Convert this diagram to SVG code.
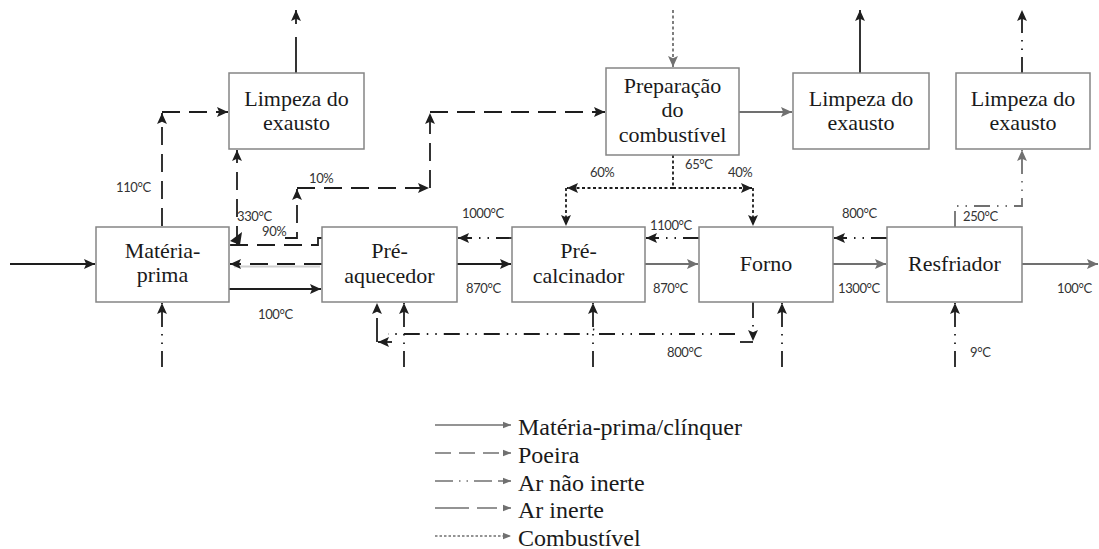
<svg xmlns="http://www.w3.org/2000/svg" width="1099" height="549" viewBox="0 0 1099 549">
<style>
.box{fill:#fff;stroke:#858585;stroke-width:1.5}
.nt{font-family:"Liberation Serif",serif;font-size:22px;fill:#1a1a1a;text-anchor:middle}
.lt{font-family:"Liberation Serif",serif;font-size:24px;fill:#1a1a1a}
.lbl{font-family:Lato,"Liberation Sans",sans-serif;font-size:13px;fill:#333;letter-spacing:-0.4px}
.k{fill:none;stroke:#1e1e1e;stroke-width:1.8}
.g{fill:none;stroke:#707070;stroke-width:1.8}
.lg{fill:none;stroke:#707070;stroke-width:1.6}
.da{stroke-dasharray:18 9}
.dd{stroke-dasharray:16 7 1.5 7 1.5 7}
.dt{stroke-dasharray:3 2.5}
</style>
<defs>
<marker id="ab" viewBox="0 0 10 10" refX="10" refY="5" markerWidth="11" markerHeight="11" markerUnits="userSpaceOnUse" orient="auto"><path d="M0,0.5 L10,5 L0,9.5 L2,5 z" fill="#1e1e1e"/></marker>
<marker id="ag" viewBox="0 0 10 10" refX="10" refY="5" markerWidth="11" markerHeight="11" markerUnits="userSpaceOnUse" orient="auto"><path d="M0,0.5 L10,5 L0,9.5 L2,5 z" fill="#707070"/></marker>
<marker id="al" viewBox="0 0 10 10" refX="10" refY="5" markerWidth="8" markerHeight="8" markerUnits="userSpaceOnUse" orient="auto"><path d="M0,1 L10,5 L0,9 z" fill="#707070"/></marker>
</defs>

<g id="connectors">
<!-- solid black -->
<path class="k" d="M10,264 H95" marker-end="url(#ab)"/>
<path class="k" d="M229,289 H321" marker-end="url(#ab)"/>
<path class="k" d="M457,264 H511" marker-end="url(#ab)"/>
<path class="k" d="M860,73 V10" marker-end="url(#ab)"/>
<path class="k" d="M296,73 V37 M296,24 V10" marker-end="url(#ab)"/>
<!-- solid gray -->
<path class="g" d="M645,264 H698" marker-end="url(#ag)"/>
<path class="g" d="M833,264 H886" marker-end="url(#ag)"/>
<path class="g" d="M1022,264 H1098" marker-end="url(#ag)"/>
<path class="g" d="M739,112 H792" marker-end="url(#ag)"/>
<!-- dashed (poeira) -->
<path d="M320,266.5 H234" fill="none" stroke="#d0d0d0" stroke-width="2"/>
<path class="k da" d="M322,264 H230" marker-end="url(#ab)"/>
<path class="k da" d="M162,226 V113" marker-end="url(#ab)"/>
<path class="k da" d="M162,112 H228" marker-end="url(#ab)"/>
<path class="k da" d="M237,244 V150" marker-end="url(#ab)"/>
<path class="k da" d="M322,238 H318 V245 H231 V239"/>
<polygon points="230,241 242,232 240,245" fill="#1e1e1e"/>
<path class="k da" d="M285,238 H297 V189" marker-end="url(#ab)"/>
<path class="k da" d="M297,188 H429" marker-end="url(#ab)"/>
<path class="k da" d="M430,188 V113" marker-end="url(#ab)"/>
<path class="k da" d="M430,112 H605" marker-end="url(#ab)"/>
<!-- dash-dot (ar nao inerte) -->
<path class="k dd" d="M512,238 H458" marker-end="url(#ab)"/>
<path class="k dd" d="M699,238 H646" marker-end="url(#ab)"/>
<path class="k dd" d="M887,238 H834" marker-end="url(#ab)"/>
<path class="k dd" d="M162,367 V303" marker-end="url(#ab)"/>
<path class="k dd" d="M404,367 V303" marker-end="url(#ab)"/>
<path class="k dd" d="M593,367 V303" marker-end="url(#ab)"/>
<path class="k dd" d="M782,367 V303" marker-end="url(#ab)"/>
<path class="k dd" d="M955,367 V303" marker-end="url(#ab)"/>
<path class="k dd" d="M753,302 V341" marker-end="url(#ab)"/>
<path class="k" d="M740,342 H753"/>
<path class="k dd" d="M735,334 H597.5 A4.5,4.5 0 0 0 588.5,334 H388"/>
<path class="k dd" d="M377,334 V303" marker-end="url(#ab)"/>
<path class="k" d="M377,334 V342"/>
<path class="k" d="M392,342 H378" marker-end="url(#ab)"/>
<path class="g dd" d="M955,227 V206 H1022 V150" marker-end="url(#ag)"/>
<path class="k dd" d="M1022,73 V10" marker-end="url(#ab)"/>
<!-- dotted (combustivel) -->
<path class="g dt" d="M673,10 V67" marker-end="url(#ag)"/>
<path class="k dt" d="M673,155 V188"/>
<path class="k dt" d="M673,188 H567" marker-end="url(#ab)"/>
<path class="k dt" d="M673,188 H752" marker-end="url(#ab)"/>
<path class="k dt" d="M566,188 V226" marker-end="url(#ab)"/>
<path class="k dt" d="M753,188 V226" marker-end="url(#ab)"/>
</g>

<g id="labels">
<text class="lbl" x="116" y="192">110°C</text>
<text class="lbl" x="237" y="221">330°C</text>
<text class="lbl" x="262" y="236">90%</text>
<text class="lbl" x="309" y="183">10%</text>
<text class="lbl" x="462" y="218">1000°C</text>
<text class="lbl" x="466" y="293">870°C</text>
<text class="lbl" x="258" y="319">100°C</text>
<text class="lbl" x="590" y="177">60%</text>
<text class="lbl" x="685" y="169">65°C</text>
<text class="lbl" x="728" y="177">40%</text>
<text class="lbl" x="650" y="230">1100°C</text>
<text class="lbl" x="653" y="293">870°C</text>
<text class="lbl" x="667" y="357">800°C</text>
<text class="lbl" x="842" y="218">800°C</text>
<text class="lbl" x="838" y="293">1300°C</text>
<text class="lbl" x="963" y="221">250°C</text>
<text class="lbl" x="1057" y="293">100°C</text>
<text class="lbl" x="970" y="357">9°C</text>
</g>

<g id="materia-prima"><rect class="box" x="96" y="227" width="133" height="75"/><text class="nt" x="162.5" y="258">Matéria-</text><text class="nt" x="162.5" y="282">prima</text></g>
<g id="pre-aquecedor"><rect class="box" x="322" y="227" width="135" height="75"/><text class="nt" x="389.5" y="258">Pré-</text><text class="nt" x="389.5" y="283">aquecedor</text></g>
<g id="pre-calcinador"><rect class="box" x="512" y="227" width="133" height="75"/><text class="nt" x="578.5" y="258">Pré-</text><text class="nt" x="578.5" y="283">calcinador</text></g>
<g id="forno"><rect class="box" x="699" y="227" width="134" height="75"/><text class="nt" x="766" y="271">Forno</text></g>
<g id="resfriador"><rect class="box" x="887" y="227" width="135" height="75"/><text class="nt" x="954.5" y="271">Resfriador</text></g>
<g id="limpeza-1"><rect class="box" x="229" y="73" width="135" height="76"/><text class="nt" x="296.5" y="106">Limpeza do</text><text class="nt" x="296.5" y="130">exausto</text></g>
<g id="preparacao"><rect class="box" x="606" y="68" width="133" height="87"/><text class="nt" x="672.5" y="93">Preparação</text><text class="nt" x="672.5" y="117">do</text><text class="nt" x="672.5" y="142">combustível</text></g>
<g id="limpeza-2"><rect class="box" x="793" y="73" width="136" height="76"/><text class="nt" x="861" y="106">Limpeza do</text><text class="nt" x="861" y="130">exausto</text></g>
<g id="limpeza-3"><rect class="box" x="956" y="73" width="134" height="76"/><text class="nt" x="1023" y="106">Limpeza do</text><text class="nt" x="1023" y="130">exausto</text></g>

<g id="legend">
<path class="lg" d="M435,425 H511" marker-end="url(#al)"/>
<path class="lg" d="M435,453 H511" stroke-dasharray="16 8" marker-end="url(#al)"/>
<path class="lg" d="M435,481 H511" stroke-dasharray="18 6 1.5 6 1.5 6 18 6" marker-end="url(#al)"/>
<path class="lg" d="M435,508 H511" stroke-dasharray="34 8 20 8" marker-end="url(#al)"/>
<path class="lg" d="M435,536 H511" stroke-dasharray="2.5 2" marker-end="url(#al)"/>
<text class="lt" x="518" y="435">Matéria-prima/clínquer</text>
<text class="lt" x="518" y="463">Poeira</text>
<text class="lt" x="518" y="491">Ar não inerte</text>
<text class="lt" x="518" y="518">Ar inerte</text>
<text class="lt" x="518" y="546">Combustível</text>
</g>
</svg>
